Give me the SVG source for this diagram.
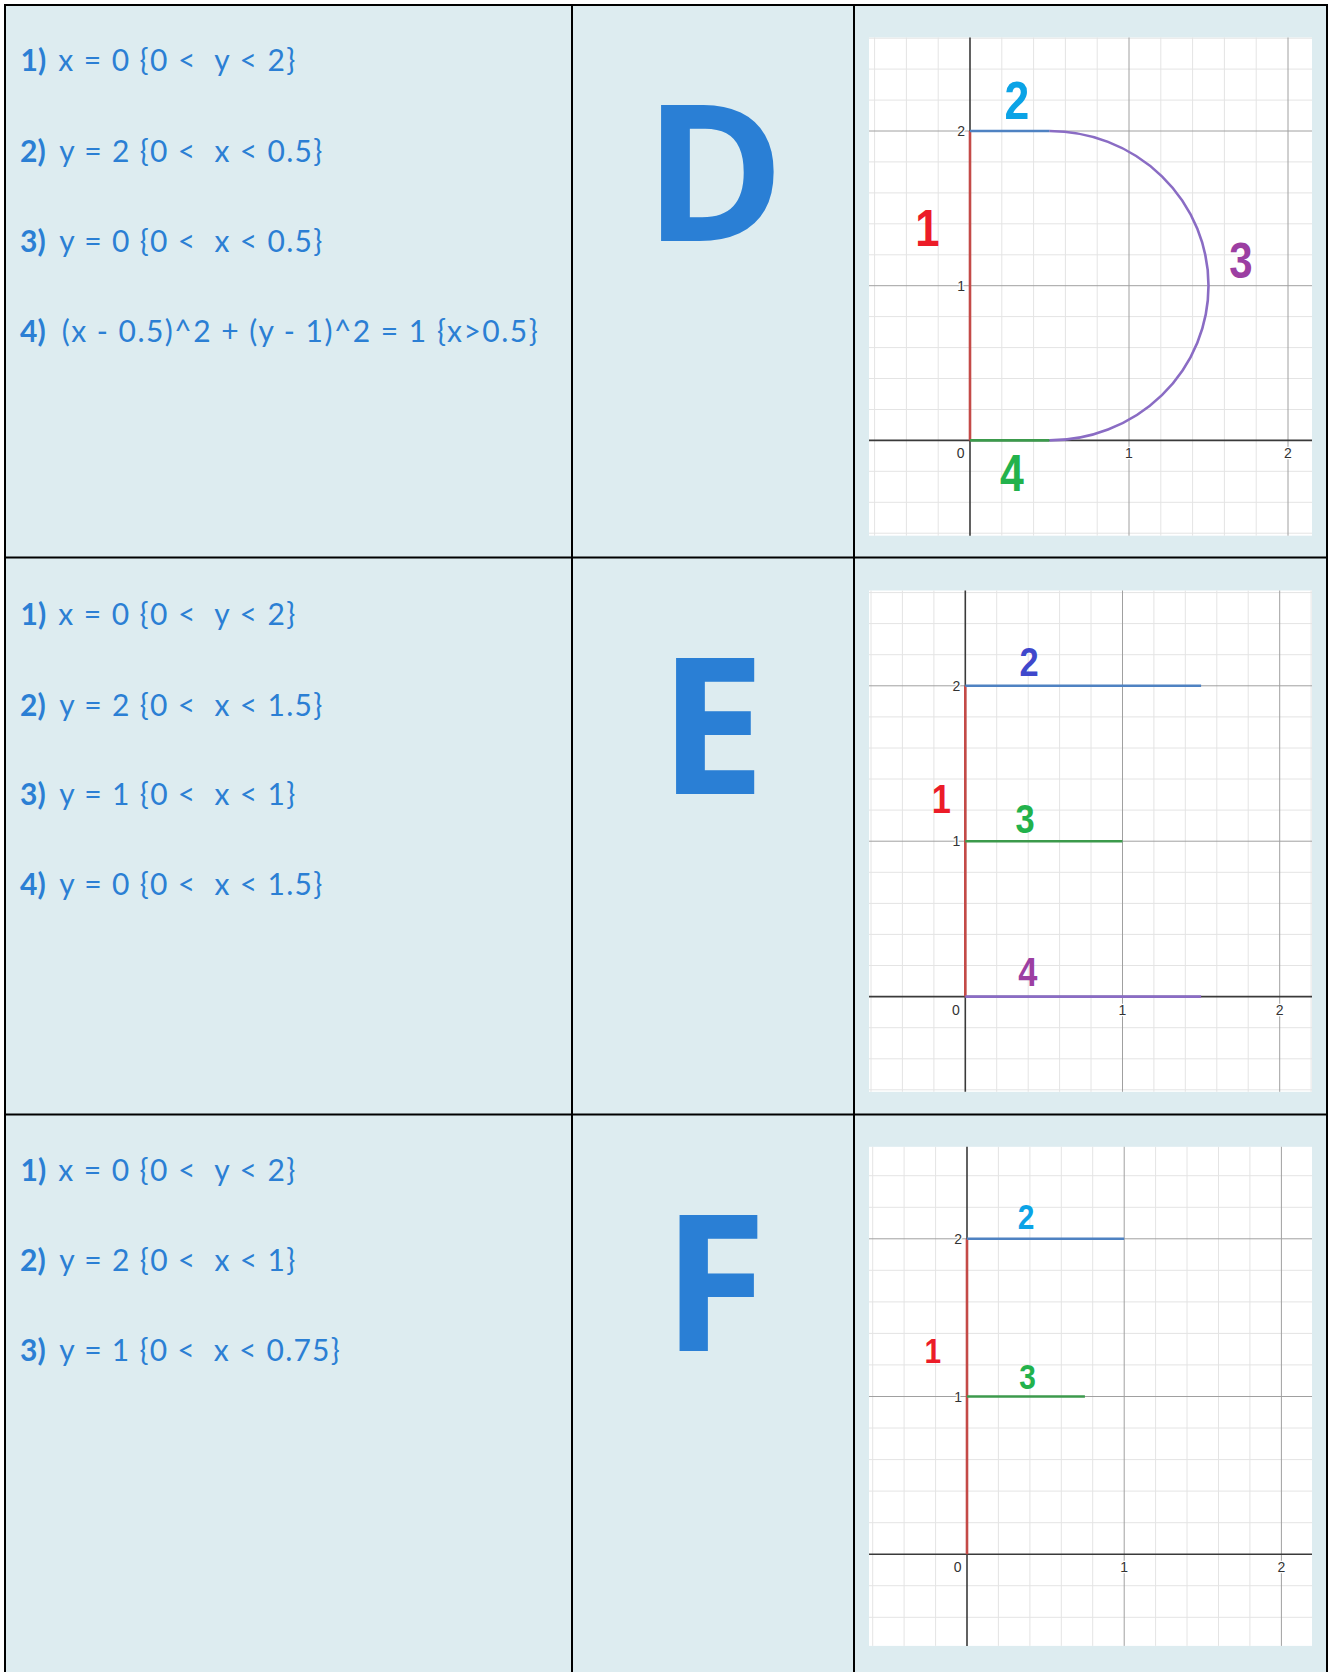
<svg xmlns="http://www.w3.org/2000/svg" width="1328" height="1672" viewBox="0 0 1328 1672">
<defs>
<style>
.cell{fill:#ddecf0}
.tbl{stroke:#000;stroke-width:2;fill:none}
.num{font-family:Lato,"Liberation Sans",sans-serif;font-weight:bold;font-size:30px;fill:#2b7fd4}
.eq{font-family:Lato,"Liberation Sans",sans-serif;font-weight:normal;font-size:30px;fill:#2b7fd4;white-space:pre}
.big{font-family:"Open Sans","Liberation Sans",sans-serif;font-weight:bold;font-size:190px;fill:#2a7fd5}
.plot{fill:#fff}
.minor{stroke:#e4e4e4;stroke-width:1}
.major{stroke:#a0a0a0;stroke-width:1}
.axis{stroke:#3a3a3a;stroke-width:1.6}
.tick{font-family:"Liberation Sans",Arial,sans-serif;font-size:14px;fill:#333;stroke:#fff;stroke-width:2.5;paint-order:stroke;stroke-linejoin:round}
.tickm{text-anchor:middle}
.ticke{text-anchor:end}
.c{fill:none;stroke-width:2.6;stroke-linecap:butt}
.cr{stroke:#c44a47}
.cb{stroke:#4f82c2}
.cg{stroke:#3c9a4c}
.cp{stroke:#8a6cc4}
.lbl{font-family:"Liberation Sans",Arial,sans-serif;font-weight:bold;text-anchor:middle}
.red{fill:#ec1c28}
.cyan{fill:#0ba3e6}
.purple{fill:#9c3fa2}
.green{fill:#22b24c}
.indigo{fill:#3f48cc}
</style>
</defs>
<rect x="0" y="0" width="1328" height="1672" fill="#fff"/>
<rect class="cell" x="5" y="5" width="1323" height="1667"/>

<g id="table">
<line class="tbl" x1="5" y1="5" x2="1328" y2="5"/>
<line class="tbl" x1="5" y1="4" x2="5" y2="1672"/>
<line class="tbl" x1="572" y1="5" x2="572" y2="1672"/>
<line class="tbl" x1="854" y1="5" x2="854" y2="1672"/>
<line class="tbl" x1="1327" y1="5" x2="1327" y2="1672"/>
<line class="tbl" x1="5" y1="557.5" x2="1328" y2="557.5"/>
<line class="tbl" x1="5" y1="1114.5" x2="1328" y2="1114.5"/>
</g>

<!-- Row D -->
<g id="row-d">
<g id="d-equations">
<text class="num" x="20.5" y="70.7">1)</text><text class="eq" x="58.3" y="70.7" textLength="237" lengthAdjust="spacing" xml:space="preserve">x = 0 {0 &lt;  y &lt; 2}</text>
<text class="num" x="20" y="161.7">2)</text><text class="eq" x="59.3" y="161.7" textLength="263" lengthAdjust="spacing" xml:space="preserve">y = 2 {0 &lt;  x &lt; 0.5}</text>
<text class="num" x="20" y="251.7">3)</text><text class="eq" x="59.3" y="251.7" textLength="263" lengthAdjust="spacing" xml:space="preserve">y = 0 {0 &lt;  x &lt; 0.5}</text>
<text class="num" x="20" y="341.7">4)</text><text class="eq" x="61.7" y="341.7" textLength="476" lengthAdjust="spacing" xml:space="preserve">(x - 0.5)^2 + (y - 1)^2 = 1 {x&gt;0.5}</text>
</g>
<g id="d-letter"><text class="big" x="644" y="240.5">D</text></g>
<g id="d-graph">
<rect class="plot" x="869" y="37.5" width="443" height="498.2"/>
<g class="minor">
<line x1="874.6" y1="37.5" x2="874.6" y2="535.7"/><line x1="906.4" y1="37.5" x2="906.4" y2="535.7"/><line x1="938.2" y1="37.5" x2="938.2" y2="535.7"/>
<line x1="1001.8" y1="37.5" x2="1001.8" y2="535.7"/><line x1="1033.6" y1="37.5" x2="1033.6" y2="535.7"/><line x1="1065.4" y1="37.5" x2="1065.4" y2="535.7"/><line x1="1097.2" y1="37.5" x2="1097.2" y2="535.7"/>
<line x1="1160.8" y1="37.5" x2="1160.8" y2="535.7"/><line x1="1192.6" y1="37.5" x2="1192.6" y2="535.7"/><line x1="1224.4" y1="37.5" x2="1224.4" y2="535.7"/><line x1="1256.2" y1="37.5" x2="1256.2" y2="535.7"/>
<line x1="869" y1="533.2" x2="1312" y2="533.2"/><line x1="869" y1="502.3" x2="1312" y2="502.3"/><line x1="869" y1="471.3" x2="1312" y2="471.3"/>
<line x1="869" y1="409.5" x2="1312" y2="409.5"/><line x1="869" y1="378.5" x2="1312" y2="378.5"/><line x1="869" y1="347.6" x2="1312" y2="347.6"/><line x1="869" y1="316.6" x2="1312" y2="316.6"/>
<line x1="869" y1="254.8" x2="1312" y2="254.8"/><line x1="869" y1="223.8" x2="1312" y2="223.8"/><line x1="869" y1="192.9" x2="1312" y2="192.9"/><line x1="869" y1="161.9" x2="1312" y2="161.9"/>
<line x1="869" y1="100.1" x2="1312" y2="100.1"/><line x1="869" y1="69.1" x2="1312" y2="69.1"/><line x1="869" y1="38.2" x2="1312" y2="38.2"/>
</g>
<g class="major">
<line x1="1129" y1="37.5" x2="1129" y2="535.7"/><line x1="1288" y1="37.5" x2="1288" y2="535.7"/>
<line x1="869" y1="285.7" x2="1312" y2="285.7"/><line x1="869" y1="131" x2="1312" y2="131"/>
</g>
<g class="axis">
<line x1="970" y1="37.5" x2="970" y2="535.7"/><line x1="869" y1="440.4" x2="1312" y2="440.4"/>
</g>
<g>
<text class="tick ticke" x="965" y="136">2</text>
<text class="tick ticke" x="965" y="290.7">1</text>
<text class="tick ticke" x="964.5" y="458">0</text>
<text class="tick tickm" x="1129" y="458">1</text>
<text class="tick tickm" x="1288" y="458">2</text>
</g>
<g id="d-curves">
<line class="c cr" x1="970" y1="131" x2="970" y2="440.4"/>
<line class="c cb" x1="970" y1="131" x2="1049.5" y2="131"/>
<line class="c cg" x1="970" y1="440.4" x2="1049.5" y2="440.4"/>
<path class="c cp" d="M1049.5,131 A159,154.7 0 0 1 1049.5,440.4"/>
</g>
<g id="d-labels">
<text class="lbl cyan" font-size="53" transform="translate(1017,118.5) scale(0.84,1)">2</text>
<text class="lbl red" font-size="52" transform="translate(927.5,246) scale(0.84,1)">1</text>
<text class="lbl purple" font-size="50" transform="translate(1241,278) scale(0.84,1)">3</text>
<text class="lbl green" font-size="51" transform="translate(1012,491) scale(0.84,1)">4</text>
</g>
</g>
</g>

<!-- Row E -->
<g id="row-e">
<g id="e-equations">
<text class="num" x="20.5" y="625">1)</text><text class="eq" x="58.3" y="625" textLength="237" lengthAdjust="spacing" xml:space="preserve">x = 0 {0 &lt;  y &lt; 2}</text>
<text class="num" x="20" y="716">2)</text><text class="eq" x="59.3" y="716" textLength="263" lengthAdjust="spacing" xml:space="preserve">y = 2 {0 &lt;  x &lt; 1.5}</text>
<text class="num" x="20" y="805">3)</text><text class="eq" x="59.3" y="805" textLength="236" lengthAdjust="spacing" xml:space="preserve">y = 1 {0 &lt;  x &lt; 1}</text>
<text class="num" x="20" y="895">4)</text><text class="eq" x="59.3" y="895" textLength="263" lengthAdjust="spacing" xml:space="preserve">y = 0 {0 &lt;  x &lt; 1.5}</text>
</g>
<g id="e-letter"><text class="big" x="659" y="794.3">E</text></g>
<g id="e-graph">
<rect class="plot" x="869" y="590.5" width="443" height="501.3"/>
<g class="minor">
<line x1="871" y1="590.5" x2="871" y2="1091.8"/><line x1="902.4" y1="590.5" x2="902.4" y2="1091.8"/><line x1="933.9" y1="590.5" x2="933.9" y2="1091.8"/>
<line x1="996.7" y1="590.5" x2="996.7" y2="1091.8"/><line x1="1028.2" y1="590.5" x2="1028.2" y2="1091.8"/><line x1="1059.6" y1="590.5" x2="1059.6" y2="1091.8"/><line x1="1091" y1="590.5" x2="1091" y2="1091.8"/>
<line x1="1153.9" y1="590.5" x2="1153.9" y2="1091.8"/><line x1="1185.3" y1="590.5" x2="1185.3" y2="1091.8"/><line x1="1216.8" y1="590.5" x2="1216.8" y2="1091.8"/><line x1="1248.2" y1="590.5" x2="1248.2" y2="1091.8"/>
<line x1="1311.1" y1="590.5" x2="1311.1" y2="1091.8"/>
<line x1="869" y1="1089.8" x2="1312" y2="1089.8"/><line x1="869" y1="1058.8" x2="1312" y2="1058.8"/><line x1="869" y1="1027.7" x2="1312" y2="1027.7"/>
<line x1="869" y1="965.5" x2="1312" y2="965.5"/><line x1="869" y1="934.4" x2="1312" y2="934.4"/><line x1="869" y1="903.4" x2="1312" y2="903.4"/><line x1="869" y1="872.3" x2="1312" y2="872.3"/>
<line x1="869" y1="810.1" x2="1312" y2="810.1"/><line x1="869" y1="779" x2="1312" y2="779"/><line x1="869" y1="748" x2="1312" y2="748"/><line x1="869" y1="716.9" x2="1312" y2="716.9"/>
<line x1="869" y1="654.7" x2="1312" y2="654.7"/><line x1="869" y1="623.6" x2="1312" y2="623.6"/><line x1="869" y1="592.6" x2="1312" y2="592.6"/>
</g>
<g class="major">
<line x1="1122.5" y1="590.5" x2="1122.5" y2="1091.8"/><line x1="1279.7" y1="590.5" x2="1279.7" y2="1091.8"/>
<line x1="869" y1="841.2" x2="1312" y2="841.2"/><line x1="869" y1="685.8" x2="1312" y2="685.8"/>
</g>
<g class="axis">
<line x1="965.3" y1="590.5" x2="965.3" y2="1091.8"/><line x1="869" y1="996.6" x2="1312" y2="996.6"/>
</g>
<g>
<text class="tick ticke" x="960.3" y="690.8">2</text>
<text class="tick ticke" x="960.3" y="846.2">1</text>
<text class="tick ticke" x="959.8" y="1014.8">0</text>
<text class="tick tickm" x="1122.5" y="1014.8">1</text>
<text class="tick tickm" x="1279.7" y="1014.8">2</text>
</g>
<g id="e-curves">
<line class="c cr" x1="965.3" y1="685.8" x2="965.3" y2="996.6"/>
<line class="c cb" x1="965.3" y1="685.8" x2="1201.1" y2="685.8"/>
<line class="c cg" x1="965.3" y1="841.2" x2="1122.5" y2="841.2"/>
<line class="c cp" x1="965.3" y1="996.6" x2="1201.1" y2="996.6"/>
</g>
<g id="e-labels">
<text class="lbl indigo" font-size="41" transform="translate(1029,676) scale(0.84,1)">2</text>
<text class="lbl red" font-size="41" transform="translate(941.3,812.5) scale(0.84,1)">1</text>
<text class="lbl green" font-size="41" transform="translate(1025,833) scale(0.84,1)">3</text>
<text class="lbl purple" font-size="41" transform="translate(1027.8,985.7) scale(0.84,1)">4</text>
</g>
</g>
</g>

<!-- Row F -->
<g id="row-f">
<g id="f-equations">
<text class="num" x="20.5" y="1180.7">1)</text><text class="eq" x="58.3" y="1180.7" textLength="237" lengthAdjust="spacing" xml:space="preserve">x = 0 {0 &lt;  y &lt; 2}</text>
<text class="num" x="20" y="1270.7">2)</text><text class="eq" x="59.3" y="1270.7" textLength="236" lengthAdjust="spacing" xml:space="preserve">y = 2 {0 &lt;  x &lt; 1}</text>
<text class="num" x="20" y="1360.7">3)</text><text class="eq" x="59.3" y="1360.7" textLength="280.5" lengthAdjust="spacing" xml:space="preserve">y = 1 {0 &lt;  x &lt; 0.75}</text>
</g>
<g id="f-letter"><text class="big" x="662.6" y="1351">F</text></g>
<g id="f-graph">
<rect class="plot" x="869" y="1146.8" width="443" height="499.1"/>
<g class="minor">
<line x1="872.7" y1="1146.8" x2="872.7" y2="1645.9"/><line x1="904.1" y1="1146.8" x2="904.1" y2="1645.9"/><line x1="935.6" y1="1146.8" x2="935.6" y2="1645.9"/>
<line x1="998.4" y1="1146.8" x2="998.4" y2="1645.9"/><line x1="1029.9" y1="1146.8" x2="1029.9" y2="1645.9"/><line x1="1061.3" y1="1146.8" x2="1061.3" y2="1645.9"/><line x1="1092.7" y1="1146.8" x2="1092.7" y2="1645.9"/>
<line x1="1155.6" y1="1146.8" x2="1155.6" y2="1645.9"/><line x1="1187" y1="1146.8" x2="1187" y2="1645.9"/><line x1="1218.5" y1="1146.8" x2="1218.5" y2="1645.9"/><line x1="1249.9" y1="1146.8" x2="1249.9" y2="1645.9"/>
<line x1="869" y1="1617.3" x2="1312" y2="1617.3"/><line x1="869" y1="1585.7" x2="1312" y2="1585.7"/>
<line x1="869" y1="1522.7" x2="1312" y2="1522.7"/><line x1="869" y1="1491.1" x2="1312" y2="1491.1"/><line x1="869" y1="1459.6" x2="1312" y2="1459.6"/><line x1="869" y1="1428" x2="1312" y2="1428"/>
<line x1="869" y1="1364.9" x2="1312" y2="1364.9"/><line x1="869" y1="1333.4" x2="1312" y2="1333.4"/><line x1="869" y1="1301.9" x2="1312" y2="1301.9"/><line x1="869" y1="1270.3" x2="1312" y2="1270.3"/>
<line x1="869" y1="1207.3" x2="1312" y2="1207.3"/><line x1="869" y1="1175.7" x2="1312" y2="1175.7"/>
</g>
<g class="major">
<line x1="1124.2" y1="1146.8" x2="1124.2" y2="1645.9"/><line x1="1281.4" y1="1146.8" x2="1281.4" y2="1645.9"/>
<line x1="869" y1="1396.5" x2="1312" y2="1396.5"/><line x1="869" y1="1238.8" x2="1312" y2="1238.8"/>
</g>
<g class="axis">
<line x1="967" y1="1146.8" x2="967" y2="1645.9"/><line x1="869" y1="1554.2" x2="1312" y2="1554.2"/>
</g>
<g>
<text class="tick ticke" x="962" y="1243.8">2</text>
<text class="tick ticke" x="962" y="1401.5">1</text>
<text class="tick ticke" x="961.5" y="1572">0</text>
<text class="tick tickm" x="1124.2" y="1572">1</text>
<text class="tick tickm" x="1281.4" y="1572">2</text>
</g>
<g id="f-curves">
<line class="c cr" x1="967" y1="1238.8" x2="967" y2="1554.2"/>
<line class="c cb" x1="967" y1="1238.8" x2="1124.2" y2="1238.8"/>
<line class="c cg" x1="967" y1="1396.5" x2="1084.9" y2="1396.5"/>
</g>
<g id="f-labels">
<text class="lbl cyan" font-size="35.6" transform="translate(1026,1229.4) scale(0.84,1)">2</text>
<text class="lbl red" font-size="35.6" transform="translate(932.7,1362.7) scale(0.84,1)">1</text>
<text class="lbl green" font-size="35.6" transform="translate(1027.5,1388.5) scale(0.84,1)">3</text>
</g>
</g>
</g>
</svg>
